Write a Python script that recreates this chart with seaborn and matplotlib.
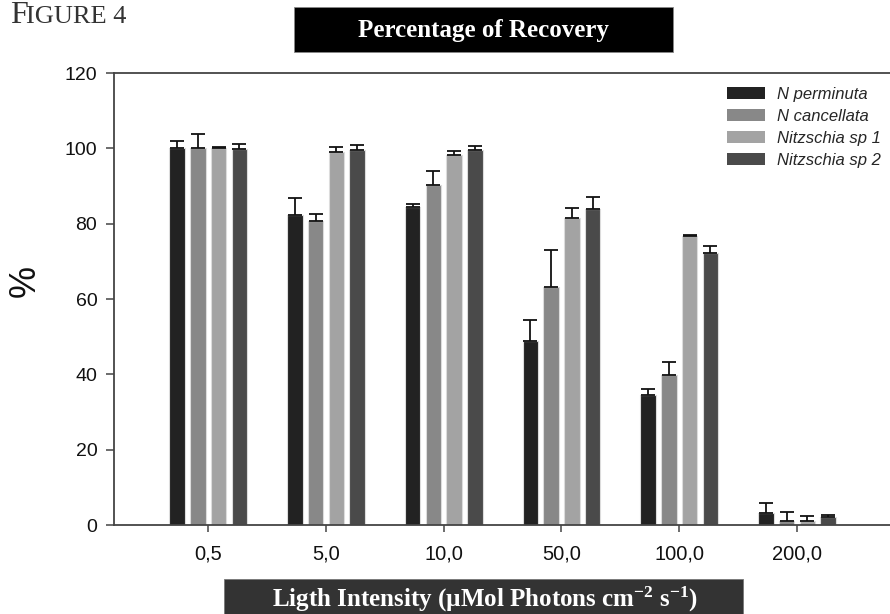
import matplotlib
matplotlib.use("Agg")
import matplotlib.pyplot as plt
from matplotlib.patches import Rectangle
import seaborn as sns
import pandas as pd
import numpy as np

# ---- data ----
intensities = ["0,5", "5,0", "10,0", "50,0", "100,0", "200,0"]
species = ["N perminuta", "N cancellata", "Nitzschia sp 1", "Nitzschia sp 2"]
n_perminuta = [100.0, 82.4, 84.3, 48.9, 34.6, 3.1]
n_cancellata = [100.0, 80.7, 90.3, 63.1, 39.9, 1.1]
nitzschia_sp1 = [100.0, 99.0, 98.2, 81.6, 76.7, 1.1]
nitzschia_sp2 = [99.7, 99.5, 99.5, 84.0, 72.3, 2.1]
err_perminuta = [1.9, 4.5, 1.0, 5.4, 1.6, 2.8]
err_cancellata = [3.8, 1.8, 3.8, 10.0, 3.5, 2.4]
err_sp1 = [0.4, 1.3, 1.2, 2.6, 0.3, 1.2]
err_sp2 = [1.4, 1.5, 1.2, 3.1, 1.7, 0.6]
yticks = [0, 20, 40, 60, 80, 100, 120]

values = [n_perminuta, n_cancellata, nitzschia_sp1, nitzschia_sp2]
errors = [err_perminuta, err_cancellata, err_sp1, err_sp2]
colors = ["#222222", "#888888", "#a3a3a3", "#4a4a4a"]

rows = []
for sp, vals in zip(species, values):
    for cat, v in zip(intensities, vals):
        rows.append({"Intensity": cat, "Species": sp, "Value": v})
df = pd.DataFrame(rows)

sns.set_style("white")
plt.rcParams["font.family"] = ["Liberation Sans", "DejaVu Sans"]
plt.rcParams["mathtext.fontset"] = "custom"
plt.rcParams["mathtext.rm"] = "Liberation Serif:bold"
plt.rcParams["mathtext.it"] = "Liberation Serif:bold"
plt.rcParams["mathtext.bf"] = "Liberation Serif:bold"

fig = plt.figure(figsize=(8.9, 6.14), dpi=100)
ax = fig.add_axes([114 / 890, 1 - 525 / 614, 1 - 114 / 890, (525 - 73) / 614])

sns.barplot(data=df, x="Intensity", y="Value", hue="Species", order=intensities,
            hue_order=species, palette=colors, width=0.704, gap=0.25,
            errorbar=None, edgecolor="#dcdcdc", linewidth=0.8, saturation=1,
            ax=ax)

for cont, errs in zip(ax.containers, errors):
    xs = [b.get_x() + b.get_width() / 2 for b in cont]
    hs = [b.get_height() for b in cont]
    ax.errorbar(xs, hs, yerr=[np.zeros(len(errs)), errs], fmt="none",
                ecolor="#111111", elinewidth=1.3, capsize=5.2, capthick=1.3,
                zorder=1)

ax.set_xlim(-0.8, 5.79)
ax.set_ylim(0, 120)
ax.set_yticks(yticks)
ax.set_yticklabels([str(t) for t in yticks], fontsize=14, color="#111111")
ax.set_xticks(range(len(intensities)))
ax.set_xticklabels(intensities, fontsize=14.5, color="#111111")
ax.set_xlabel("")
ax.set_ylabel("")
fig.text(25 / 890, 1 - 281 / 614, "%", fontsize=26, color="#111111",
         rotation=90, ha="center", va="center")

for side in ["left", "bottom", "top"]:
    ax.spines[side].set_visible(True)
    ax.spines[side].set_color("#444444")
    ax.spines[side].set_linewidth(1.3)
ax.spines["right"].set_visible(False)
ax.tick_params(axis="y", direction="out", length=6, width=1.1, color="#444444", left=True, pad=6)
ax.tick_params(axis="x", direction="out", length=5, width=1.1, color="#444444", bottom=True, pad=9)

leg = ax.legend(loc="upper left", bbox_to_anchor=(727 / 890, 1 - 87 / 614),
                bbox_transform=fig.transFigure, frameon=False,
                prop={"style": "italic", "size": 12}, handlelength=2.3,
                handleheight=0.75, handletextpad=0.7, labelspacing=0.42,
                borderaxespad=0, borderpad=0)
for h in leg.legend_handles:
    h.set_edgecolor("none")

# title box
fig.patches.append(Rectangle((294 / 890, 1 - 52 / 614), (673 - 294) / 890, 45 / 614,
                             transform=fig.transFigure, facecolor="black",
                             edgecolor="#888888", linewidth=0.6, zorder=0))
fig.text(483 / 890, 1 - 30 / 614, "Percentage of Recovery", color="white",
         fontsize=18, fontweight="bold", family="Liberation Serif",
         ha="center", va="center")

# bottom x-label box
fig.patches.append(Rectangle((224 / 890, -0.02), (743 - 224) / 890, (614 - 579) / 614 + 0.02,
                             transform=fig.transFigure, facecolor="#333333",
                             edgecolor="#777777", linewidth=0.6, zorder=0))
fig.text(485 / 890, 1 - 599 / 614,
         "Ligth Intensity (\u00b5Mol Photons cm$^{-2}$ s$^{-1}$)",
         color="white", fontsize=18, fontweight="bold", family="Liberation Serif",
         ha="center", va="center")

# Figure label in small caps
fig.text(10 / 890, 1 - 23 / 614, "F", fontsize=23, family="Liberation Serif",
         color="#333333", ha="left", va="baseline")
fig.text(26 / 890, 1 - 23 / 614, "IGURE 4", fontsize=19, family="Liberation Serif",
         color="#333333", ha="left", va="baseline")

fig.savefig("out.png", dpi=100)
